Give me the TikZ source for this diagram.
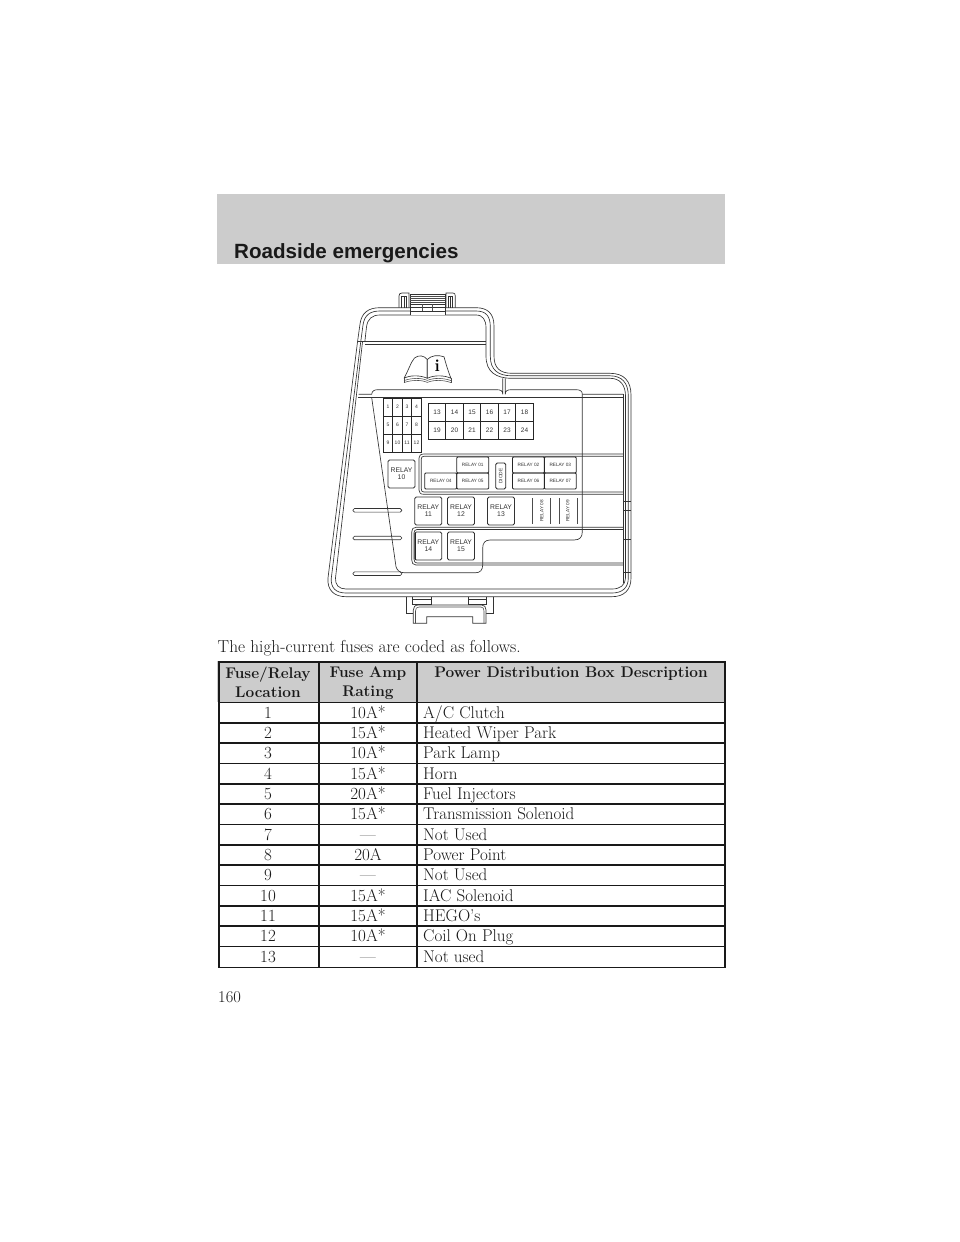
\documentclass[tikz,border=0pt]{standalone}
\usepackage{fontspec}
\setsansfont{Liberation Sans}
\tikzset{
 ln/.style={draw=black!80,line width=0.65pt},
 ll/.style={draw=black!70,line width=0.55pt},
 fuse/.style={draw=black!85,line width=0.8pt,minimum width=17.5pt,minimum height=18pt,inner sep=0pt,font=\sffamily\fontsize{6.5}{7}\selectfont,text=black!80},
 sfuse/.style={draw=black!85,line width=0.8pt,minimum width=9.5pt,minimum height=18pt,inner sep=0pt,font=\sffamily\fontsize{5}{5}\selectfont,text=black!80},
 relbig/.style={draw=black!80,line width=0.8pt,rounded corners=1.5pt,minimum width=27pt,minimum height=28pt,inner sep=0pt,align=center,font=\sffamily\fontsize{6.8}{6.8}\selectfont,text=black!80},
 relsm/.style={draw=black!85,line width=0.8pt,rounded corners=1pt,minimum width=32pt,minimum height=16pt,inner sep=0pt,font=\sffamily\fontsize{4.7}{5}\selectfont,text=black!80},
 relrot/.style={rotate=90,inner sep=0pt,font=\sffamily\fontsize{4.7}{5}\selectfont,text=black!80},
 cell/.style={font=\fontsize{17}{18}\selectfont,inner sep=0pt,text=black!90},
 head/.style={font=\bfseries\fontsize{15.4}{19}\selectfont,inner sep=0pt,align=center,text=black!90},
 rule/.style={draw=black!90,line width=1.5pt}
}
\begin{document}
\begin{tikzpicture}[x=1pt,y=-1pt]
\useasboundingbox (0,0) rectangle (960,1242);
\fill[white] (0,0) rectangle (960,1242);
% header band
\fill[black!20] (217,194) rectangle (725,264);
\node[anchor=base west,inner sep=0pt,font=\sffamily\bfseries\fontsize{20.6}{24}\selectfont,text=black!90] (title) at (234,258) {Roadside emergencies};
% --- box outer outline
\draw[ln] (357.5,342) -- (360,324) .. controls (361.5,313) and (368,307.7) .. (380,307.7) -- (476,307.7)
 .. controls (488,307.7) and (494,314) .. (494,326) -- (494,356) .. controls (494,368) and (500,373.3) .. (512,373.3)
 -- (610,373.3) .. controls (624,373.3) and (631,381) .. (631,395) -- (631,578) .. controls (631,590) and (624,596.7) .. (612,596.7)
 -- (346,596.7) .. controls (334,596.7) and (327,590) .. (328,578) -- cycle;
\draw[ln] (360.7,342) -- (363,325) .. controls (364.5,315) and (370,311) .. (380,311) -- (476,311)
 .. controls (486,311) and (490.3,316) .. (490.3,327) -- (490.3,356) .. controls (490.3,370) and (498,375.8) .. (512,375.8)
 -- (610,375.8) .. controls (622,375.8) and (628.3,383) .. (628.3,396) -- (628.3,578) .. controls (628.3,588) and (622,593) .. (612,593)
 -- (346,593) .. controls (336,593) and (330.5,588) .. (331.3,578) -- cycle;
\draw[ln] (364.8,342) -- (366.5,327) .. controls (367.5,319) and (372,315) .. (380,315) -- (476,315)
 .. controls (483,315) and (486,320) .. (486,328) -- (486,356) .. controls (486,372) and (496,378.3) .. (512,378.3)
 -- (610,378.3) .. controls (620,378.3) and (625.5,385) .. (625.5,396) -- (625.5,578) .. controls (625.5,585) and (620,589) .. (612,589)
 -- (346,589) .. controls (339,589) and (335,585) .. (335.5,578) -- (362.5,342);
% top latch
\draw[ln] (399,307.7) -- (399,296) .. controls (399,294) and (400,293) .. (402,293) -- (409,293) -- (409,307.7);
\draw[ln] (401.7,307.7) -- (401.7,296.5) -- (406.5,296.5) -- (406.5,307.7) (404,296.5) -- (404,307.7);
\draw[ln] (446,307.7) -- (446,293) -- (453,293) .. controls (454.5,293) and (455.3,294) .. (455.3,296) -- (455.3,307.7);
\draw[ln] (448.5,307.7) -- (448.5,296.5) -- (452.8,296.5) -- (452.8,307.7) (450.5,296.5) -- (450.5,307.7);
\draw[ln,fill=white] (410,315) -- (410,294.5) -- (445,294.5) -- (445,315);
\foreach \y in {296,298,300,302} \draw[ll] (410,\y) -- (445,\y);
\draw[ln,line width=1pt] (410,304.3) -- (445,304.3);
\draw[ln] (410,307.7) -- (445,307.7) (410,311) -- (445,311);
\draw[ll] (422.3,304) -- (422.3,311) (432.3,304) -- (432.3,311);
% cross lines under latch
\draw[ln] (364.8,341) -- (486,341) (364.8,344.3) -- (486,344.3);
\draw[ln] (357.5,341.3) -- (364.8,341.3);
% upper dividing arcs
\draw[ln] (358.5,394.3) -- (371.7,394.3) .. controls (372,391) and (374,389.7) .. (378,389.7) -- (497,389.7) .. controls (501,389.7) and (502.7,391) .. (502.7,394.3) -- (502.7,378.3);
\draw[ln] (505.3,378.3) -- (505.3,394.3) .. controls (505.3,391) and (507,389.7) .. (511,389.7) -- (576,389.7) .. controls (580,389.7) and (582.3,391) .. (582.3,394.3) -- (623.3,394.3);
\draw[ln] (358.3,397.7) -- (623.3,397.7);
\draw[ln] (371.7,397.7) -- (396,566.7) .. controls (397,570.5) and (400,572.7) .. (404,572.7) -- (476,572.7) .. controls (480,572.7) and (482.7,570) .. (482.7,565);
% right vertical
\draw[ln] (582.3,394.3) -- (582.3,531.7) .. controls (582.3,537) and (580,540) .. (574,540) -- (490,540) .. controls (485,540) and (482.7,543) .. (482.7,548) -- (482.7,565);
% relay tray 1
\draw[ln] (623.3,454) -- (424,454) .. controls (420.5,454) and (419,455.5) .. (419,458) -- (419,490) .. controls (419,492.8) and (420.5,494.3) .. (424,494.3) -- (623.3,494.3);
\draw[ln] (623.3,456.3) -- (424,456.3) .. controls (422,456.3) and (421.3,457) .. (421.3,459) -- (421.3,489) .. controls (421.3,491) and (422,492) .. (424,492) -- (623.3,492);
% relay tray 3
\draw[ln] (623.3,527.3) -- (416,527.3) .. controls (413,527.3) and (411.7,529) .. (411.7,532) -- (411.7,560) .. controls (411.7,563) and (413,565) .. (416,565) -- (623.3,565);
\draw[ln] (623.3,529.5) -- (417,529.5) .. controls (415,529.5) and (414,531) .. (414,533) -- (414,559) .. controls (414,561.5) and (415,563) .. (417,563) -- (623.3,563);
% tick marks right
\foreach \y in {501.7,510.7,539,572.7} \draw[ln] (623.3,\y) -- (631,\y);
\draw[ln] (623.3,394.3) -- (623.3,583);
% side slots
\foreach \yy in {510.3,538,573.7}{
 \draw[ln,rounded corners=1.5pt] (353,\yy-1.8) rectangle (401.7,\yy+1.8);
}
% bottom latch
\draw[ln] (406.7,596.7) -- (406.7,613.3) -- (413.3,613.3) (412.7,596.7) -- (412.7,605) (431,596.7) -- (431,605);
\draw[ln] (493.3,596.7) -- (493.3,613.3) -- (486,613.3) (486.7,596.7) -- (486.7,605) (468.3,596.7) -- (468.3,605);
\draw[ln] (412.7,599.5) -- (431,599.5) (412.7,604) -- (431,604) (468.3,599.5) -- (486.7,599.5) (468.3,604) -- (486.7,604);
\draw[ln,fill=white] (413.3,623.3) -- (413.3,610) .. controls (413.3,607) and (415,605) .. (418.3,605) -- (481.7,605) .. controls (484.5,605) and (486,607) .. (486,610) -- (486,623.3) -- (472.7,623.3) -- (472.7,616.7) -- (426.7,616.7) -- (426.7,623.3) -- cycle;
\draw[ll] (415.5,623.3) -- (415.5,611) .. controls (415.5,608.5) and (416.5,607) .. (419,607) -- (481,607) .. controls (483,607) and (484,608.5) .. (484,611) -- (484,623.3);
% book
\draw[ll] (404,382.6) .. controls (411,380) and (421,379.5) .. (427.3,382.4) .. controls (434,379.5) and (444,380) .. (451,382.6);
\draw[ll] (404,380.6) .. controls (411,378) and (421,377.5) .. (427.3,380.4) .. controls (434,377.5) and (444,378) .. (451,380.6);
\draw[ln,fill=white] (404,378.3) .. controls (409,369) and (411,362) .. (414.5,358) .. controls (419,354.5) and (424,355.5) .. (427.3,359.5) -- (427.3,378.3) .. controls (420,375) and (410,375) .. (404,378.3);
\draw[ln,fill=white] (427.3,378.3) -- (427.3,359.5) .. controls (431,355.5) and (438,354.5) .. (444,356.8) .. controls (446,364) and (448,371) .. (451,378.3) .. controls (444,375) and (434,375) .. (427.3,378.3);
\draw[ll] (404,378.3) -- (404,382.6) (451,378.3) -- (451,382.6);
\node[inner sep=0pt,font=\bfseries\fontsize{17}{17}\selectfont] (bi) at (437.3,366) {i};
% fuses 1-12
\foreach \n/\c/\r in {1/0/0,2/1/0,3/2/0,4/3/0,5/0/1,6/1/1,7/2/1,8/3/1,9/0/2,10/1/2,11/2/2,12/3/2}{
 \node[sfuse] (f\n) at ({388+\c*9.5},{407+\r*18}) {\n};
}
% fuses 13-24
\foreach \n/\c/\r in {13/0/0,14/1/0,15/2/0,16/3/0,17/4/0,18/5/0,19/0/1,20/1/1,21/2/1,22/3/1,23/4/1,24/5/1}{
 \node[fuse] (f\n) at ({437.1+\c*17.5},{412.3+\r*18}) {\n};
}
% relays big
\node[relbig] (r10) at (401.5,474) {RELAY\\10};
\node[relbig] (r11) at (428.3,511) {RELAY\\11};
\node[relbig] (r12) at (461,511) {RELAY\\12};
\node[relbig] (r13) at (501,511) {RELAY\\13};
\node[relbig] (r14) at (428.3,546) {RELAY\\14};
\node[relbig] (r15) at (461,546) {RELAY\\15};
\draw[black!85,line width=1pt] (415.4,532.5) -- (415.4,559.5);
% small relays
\node[relsm] (r01) at (472.7,465) {RELAY 01};
\node[relsm] (r05) at (472.7,481) {RELAY 05};
\node[relsm] (r04) at (440.8,481) {RELAY 04};
\node[relsm] (r02) at (528.5,465) {RELAY 02};
\node[relsm] (r03) at (560.3,465) {RELAY 03};
\node[relsm] (r06) at (528.5,481) {RELAY 06};
\node[relsm] (r07) at (560.3,481) {RELAY 07};
\node[draw=black!85,line width=0.8pt,rounded corners=1.5pt,minimum width=26pt,minimum height=10pt,inner sep=0pt,rotate=90,font=\sffamily\fontsize{4.9}{5}\selectfont,text=black!80] (dio) at (500.7,476) {DIODE};
% relay 08 09
\node[relrot] (r08) at (541.7,511) {RELAY 08};
\node[relrot] (r09) at (567.7,511) {RELAY 09};
\draw[ll,line width=0.8pt] (532.7,498) -- (532.7,524) (550,498) -- (550,524) (559,498) -- (559,524) (577,498) -- (577,524);
% paragraph
\node[anchor=base west,inner sep=0pt,font=\fontsize{17.3}{18}\selectfont,text=black!90] (para) at (217.5,652) {The high-current fuses are coded as follows.};
% table
\fill[black!20] (217,661) rectangle (725,702);
\node[head,anchor=north] (h1) at (268,667) {Fuse/Relay\\Location};
\node[head,anchor=north] (h2) at (368,667) {Fuse Amp\\Rating};
\node[head,anchor=north] (h3) at (571,667) {Power Distribution Box Description};
\foreach \i/\a/\b/\c in {0/1/10A*/{A/C Clutch},1/2/15A*/Heated Wiper Park,2/3/10A*/Park Lamp,3/4/15A*/Horn,4/5/20A*/Fuel Injectors,5/6/15A*/Transmission Solenoid,6/7/---/Not Used,7/8/20A/Power Point,8/9/---/Not Used,9/10/15A*/IAC Solenoid,10/11/15A*/HEGO’s,11/12/10A*/Coil On Plug,12/13/---/Not used}{
 \pgfmathsetmacro{\yy}{718.2+\i*20.33}
 \node[cell,anchor=base] (a\i) at (268,\yy) {\a};
 \node[cell,anchor=base] (b\i) at (368,\yy) {\b};
 \node[cell,anchor=base west] (c\i) at (423,\yy) {\c};
}
\draw[rule] (219,662) rectangle (725,967.5);
\draw[rule] (319,662) -- (319,967.5) (417,662) -- (417,967.5);
\foreach \y in {702.5,723,743,763.5,784,804,824.5,845,865,885.5,906,926,946.5}
 \draw[rule] (219,\y) -- (725,\y);
\node[anchor=base west,inner sep=0pt,font=\fontsize{16.5}{18}\selectfont,text=black!90] (pg) at (218,1002.5) {160};
\end{tikzpicture}
\end{document}
